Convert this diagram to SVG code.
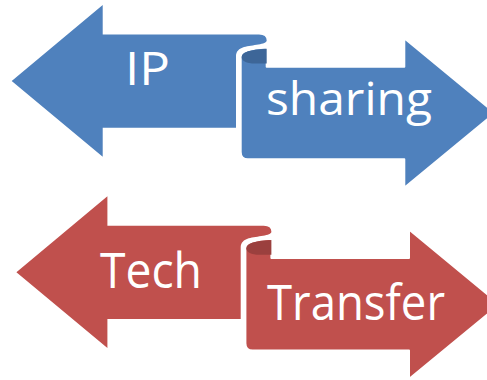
<svg xmlns="http://www.w3.org/2000/svg" width="487" height="380" viewBox="0 0 487 380">
  <style>
    .band { stroke: #ffffff; stroke-width: 2; stroke-linejoin: round; }
    .lbl { font-family: "Open Sans", "Liberation Sans", sans-serif; fill: #ffffff; }
    .blue { fill: #4F81BD; }
    .blue-dark { fill: #3D6698; }
    .red { fill: #C0504D; }
    .red-dark { fill: #9B403E; }
  </style>
  <defs>
    <path id="leftPart" d="M11.7,81 L102.7,5 L102.7,34.5 L259,34.5 Q266.7,34.5 266.7,40.5 C266.7,44.5 252,45 244,47 C239,48.5 236,51.5 236,56 L236,127.7 L102.7,127.7 L102.7,156.7 Z"/>
    <path id="rightPart" d="M240.7,57 C240.7,51 250,48.5 266.7,47.5 L266.7,66.7 L404.3,66.7 L404.3,38.3 L495,113 L404.3,187.7 L404.3,159.3 L248,159.3 Q240.7,159.3 240.7,152 Z"/>
    <path id="curl" d="M241.7,57 C241.7,52 250,49.5 266.7,48.7 L266.7,63.5 L255,63.5 C246,63.5 241.7,61 241.7,57 Z"/>
  </defs>

  <g id="ip-sharing">
    <use href="#leftPart" class="blue"/>
    <use href="#rightPart" class="blue band"/>
    <use href="#curl" class="blue-dark"/>
    <text class="lbl" x="125" y="85" font-size="45" textLength="45" lengthAdjust="spacingAndGlyphs">IP</text>
    <text class="lbl" x="266" y="115" font-size="45" textLength="166" lengthAdjust="spacingAndGlyphs">sharing</text>
  </g>

  <g id="tech-transfer">
    <g transform="translate(4.7,191.3)">
      <use href="#leftPart" class="red"/>
      <use href="#rightPart" class="red band"/>
      <use href="#curl" class="red-dark"/>
    </g>
    <text class="lbl" x="100" y="288.3" font-size="49" textLength="102" lengthAdjust="spacingAndGlyphs">Tech</text>
    <text class="lbl" x="267" y="320" font-size="49" textLength="178" lengthAdjust="spacingAndGlyphs">Transfer</text>
  </g>
</svg>
